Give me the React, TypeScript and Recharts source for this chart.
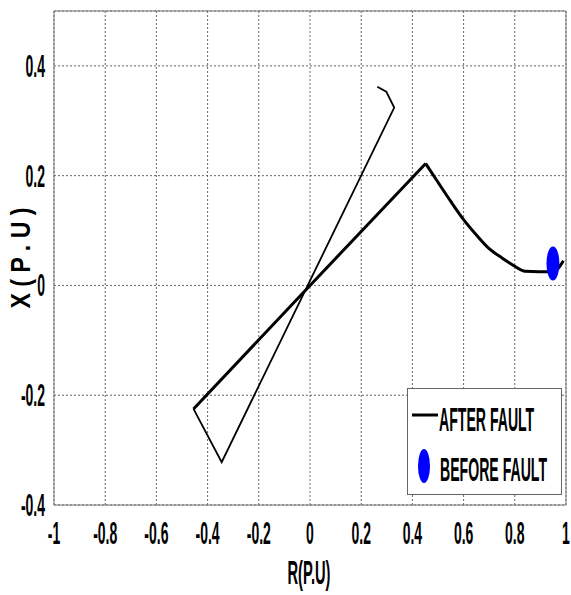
import React from "react";
import {CartesianGrid, ComposedChart, Line, ReferenceArea, Scatter, XAxis, YAxis} from "recharts";

// after-fault trajectory: curved part near the operating point
const curveR = [0.99, 0.95, 0.84, 0.8, 0.75, 0.7, 0.65, 0.6, 0.55, 0.5, 0.452];
const curveX = [0.045, 0.025, 0.026, 0.035, 0.05, 0.067, 0.092, 0.12, 0.153, 0.188, 0.222];
// heavy straight swing through the origin
const swingR = [0.452, 0, -0.455];
const swingX = [0.222, 0, -0.225];
// lighter return swing
const returnR = [-0.455, -0.345, 0.329, 0.298, 0.263];
const returnX = [-0.225, -0.322, 0.324, 0.353, 0.362];
// pre-fault operating point
const beforeR = [0.949];
const beforeX = [0.04];

const xTicks = [-1, -0.8, -0.6, -0.4, -0.2, 0, 0.2, 0.4, 0.6, 0.8, 1];
const yTicks = [-0.4, -0.2, 0, 0.2, 0.4];

const zip = (rs: number[], xs: number[]) => rs.map((r, i) => ({r, x: xs[i]}));
const curve = zip(curveR, curveX);
const swing = zip(swingR, swingX);
const back = zip(returnR, returnX);
const before = zip(beforeR, beforeX);

const FONT = "'Liberation Sans', Arial, sans-serif";

// squeezed bold text, like the stretched matlab export
const Squeezed = ({x, y, text, size, sx, sy = 1.12, anchor}: any) => (
    <text
        transform={`translate(${x},${y}) scale(${sx},${sy})`}
        textAnchor={anchor}
        fontFamily={FONT}
        fontWeight={700}
        fontSize={size}
        fill="#000"
    >
        {text}
    </text>
);

const XTick = (props: any) => (
    <Squeezed x={props.x} y={props.y + 31} text={String(props.payload.value)} size={28} sx={0.5} anchor="middle" />
);

const YTick = (props: any) => (
    <Squeezed x={props.x - 1} y={props.y + 11} text={String(props.payload.value)} size={28} sx={0.5} anchor="end" />
);

const Ellipse = (props: any) => (
    <ellipse cx={props.cx} cy={props.cy} rx={6.5} ry={17} fill="#0000ff" />
);

const App: React.FC = () => {
    return (
        <div style={{position: "absolute", left: 0, top: 0, width: 571, height: 595, background: "#fff"}}>
            <ComposedChart width={571} height={595} margin={{top: 11, right: 5, left: 0, bottom: 0}}>
                <CartesianGrid stroke="#666" strokeDasharray="2 2" />
                <XAxis
                    type="number"
                    dataKey="r"
                    domain={[-1, 1]}
                    ticks={xTicks}
                    allowDataOverflow
                    height={90}
                    axisLine={false}
                    tickLine={false}
                    tick={XTick}
                />
                <YAxis
                    type="number"
                    dataKey="x"
                    domain={[-0.4, 0.5]}
                    ticks={yTicks}
                    allowDataOverflow
                    width={54}
                    axisLine={false}
                    tickLine={false}
                    tick={YTick}
                />
                <ReferenceArea x1={-1} x2={1} y1={-0.4} y2={0.5} fill="none" stroke="#777" strokeWidth={1} />
                <Line data={curve} dataKey="x" type="monotone" stroke="#000" strokeWidth={3} dot={false} isAnimationActive={false} />
                <Line data={swing} dataKey="x" type="linear" stroke="#000" strokeWidth={3} dot={false} isAnimationActive={false} />
                <Line data={back} dataKey="x" type="linear" stroke="#000" strokeWidth={1.8} dot={false} isAnimationActive={false} />
                <Scatter data={before} dataKey="x" shape={Ellipse} isAnimationActive={false} />
            </ComposedChart>
            <svg width={571} height={595} style={{position: "absolute", left: 0, top: 0, pointerEvents: "none"}}>
                <Squeezed x={309} y={584} text="R(P.U)" size={30} sx={0.49} anchor="middle" />
                <text
                    transform="translate(30,258) rotate(-90) scale(1.05,1.25)"
                    textAnchor="middle"
                    fontFamily={FONT}
                    fontWeight={700}
                    fontSize={22}
                    fill="#000"
                >
                    X ( P . U )
                </text>
                <rect x={407.5} y={388.5} width={154} height={106} fill="#fff" stroke="#666" />
                <line x1={412} x2={438} y1={415} y2={415} stroke="#000" strokeWidth={3} />
                <Squeezed x={439} y={431} text="AFTER FAULT" size={30} sx={0.47} anchor="start" />
                <ellipse cx={424} cy={466} rx={6} ry={17} fill="#0000ff" />
                <Squeezed x={440} y={481} text="BEFORE FAULT" size={30} sx={0.47} anchor="start" />
            </svg>
        </div>
    );
};

export default App;
